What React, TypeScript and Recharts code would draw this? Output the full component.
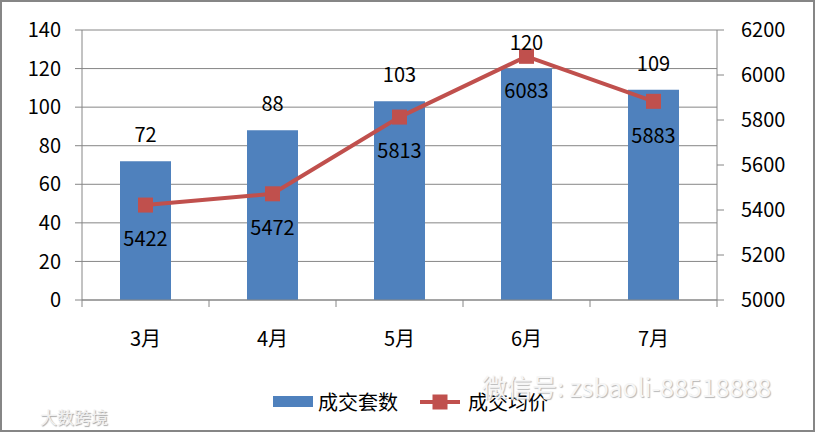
import React from "react";
import {
  ComposedChart,
  Bar,
  Line,
  XAxis,
  YAxis,
  CartesianGrid,
  LabelList,
} from "recharts";

const categories = ["3月", "4月", "5月", "6月", "7月"];
const dealCounts = [72, 88, 103, 120, 109];
const avgPrices = [5422, 5472, 5813, 6083, 5883];
const countTicks = [0, 20, 40, 60, 80, 100, 120, 140];
const priceTicks = [5000, 5200, 5400, 5600, 5800, 6000, 6200];
const seriesNames = ["成交套数", "成交均价"];

const data = categories.map((month, i) => ({
  month,
  count: dealCounts[i],
  price: avgPrices[i],
}));

const W = 817;
const H = 432;
const LEFT_AXIS_W = 82;
const RIGHT_AXIS_W = 100;
const BAND = (W - LEFT_AXIS_W - RIGHT_AXIS_W) / categories.length;

const FONT = '"Noto Sans CJK SC", "Noto Sans", sans-serif';
const GREY = "#868686";
const BLUE = "#4F81BD";
const RED = "#C0504D";

const MonthTick = (props: any) => {
  const { x, y, payload, index } = props;
  const last = index === categories.length - 1;
  return (
    <g>
      <line x1={x - BAND / 2} x2={x - BAND / 2} y1={y} y2={y + 7} stroke={GREY} />
      {last && <line x1={x + BAND / 2} x2={x + BAND / 2} y1={y} y2={y + 7} stroke={GREY} />}
      <text x={x} y={y + 46} textAnchor="middle" fontSize={20} fill="#000" fontFamily={FONT}>
        {payload.value}
      </text>
    </g>
  );
};

const SquareDot = (props: any) => {
  const { cx, cy } = props;
  if (cx == null || cy == null) return null;
  return <rect x={cx - 7.5} y={cy - 7.5} width={15} height={15} fill={RED} />;
};

// legend drawn by hand so it doesn't eat into the plot area
const LegendBox = () => (
  <div
    style={{
      position: "absolute",
      left: 273,
      top: 387,
      display: "flex",
      alignItems: "center",
      fontFamily: FONT,
      fontSize: 20,
      color: "#000",
      whiteSpace: "nowrap",
    }}
  >
    <span style={{ display: "inline-block", width: 40, height: 11, background: BLUE, marginRight: 5 }} />
    <span>{seriesNames[0]}</span>
    <svg width={40} height={16} style={{ marginLeft: 22, marginRight: 8 }}>
      <line x1={0} x2={40} y1={8} y2={8} stroke={RED} strokeWidth={4} />
      <rect x={12.5} y={0.5} width={15} height={15} fill={RED} />
    </svg>
    <span>{seriesNames[1]}</span>
  </div>
);

export default function App() {
  return (
    <div
      style={{
        position: "absolute",
        left: 0,
        top: 0,
        width: W,
        height: H,
        background: "#fff",
        fontFamily: FONT,
      }}
    >
      <div
        style={{
          position: "absolute",
          left: 0,
          top: 0,
          width: 815,
          height: H,
          border: `2px solid ${GREY}`,
          boxSizing: "border-box",
        }}
      />
      <ComposedChart
        width={W}
        height={H}
        data={data}
        margin={{ top: 30, right: 0, left: 0, bottom: 82 }}
      >
        <CartesianGrid vertical={false} stroke={GREY} yAxisId="left" />
        <XAxis
          dataKey="month"
          axisLine={{ stroke: GREY }}
          tickLine={false}
          tickSize={0}
          tickMargin={0}
          height={50}
          tick={<MonthTick />}
          interval={0}
        />
        <YAxis
          yAxisId="left"
          width={LEFT_AXIS_W}
          domain={[0, 140]}
          ticks={countTicks}
          interval={0}
          axisLine={{ stroke: GREY }}
          tickLine={{ stroke: GREY }}
          tickSize={7}
          tickMargin={14}
          tick={{ fontSize: 20, fill: "#000", fontFamily: FONT }}
        />
        <YAxis
          yAxisId="right"
          orientation="right"
          width={RIGHT_AXIS_W}
          domain={[5000, 6200]}
          ticks={priceTicks}
          interval={0}
          axisLine={{ stroke: GREY }}
          tickLine={{ stroke: GREY }}
          tickSize={7}
          tickMargin={17}
          tick={{ fontSize: 20, fill: "#000", fontFamily: FONT, textAnchor: "start" }}
        />
        <Bar yAxisId="left" dataKey="count" name={seriesNames[0]} fill={BLUE} barSize={51} isAnimationActive={false}>
          <LabelList dataKey="count" position="top" offset={19} fontSize={20} fill="#000" fontFamily={FONT} />
        </Bar>
        <Line
          yAxisId="right"
          dataKey="price"
          name={seriesNames[1]}
          stroke={RED}
          strokeWidth={4}
          dot={<SquareDot />}
          activeDot={false}
          isAnimationActive={false}
        >
          <LabelList dataKey="price" position="bottom" offset={27} fontSize={20} fill="#000" fontFamily={FONT} />
        </Line>
      </ComposedChart>
      <LegendBox />
      <div
        style={{
          position: "absolute",
          left: 482,
          top: 368,
          fontSize: 25,
          color: "#f6f6f6",
          textShadow: "1px 1px 1px #b8b8b8",
          whiteSpace: "nowrap",
          pointerEvents: "none",
        }}
      >
        微信号: zsbaoli-88518888
      </div>
      <div
        style={{
          position: "absolute",
          left: 40,
          top: 404,
          fontSize: 17,
          color: "#f0f0f0",
          textShadow: "1px 1px 1px #a8a8a8",
          whiteSpace: "nowrap",
        }}
      >
        大数跨境
      </div>
    </div>
  );
}
